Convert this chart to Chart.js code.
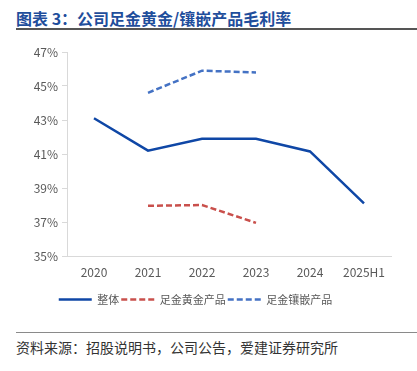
<!DOCTYPE html>
<html><head><meta charset="utf-8">
<script src="https://cdn.jsdelivr.net/npm/chart.js@4/dist/chart.umd.min.js"></script>
<style>
html,body{margin:0;padding:0;background:#fff;width:417px;height:371px;overflow:hidden;font-family:"Noto Sans CJK SC",sans-serif;}
#title{position:absolute;left:16px;top:8px;font-size:16px;font-weight:bold;color:#1F4E9C;white-space:nowrap;line-height:20px;}
#tline{position:absolute;left:16px;top:28px;width:401px;height:2px;background:#555;}
#sline{position:absolute;left:16px;top:332px;width:401px;height:1px;background:#8a8a8a;}
#source{position:absolute;left:16px;top:338px;font-size:14px;color:#333;white-space:nowrap;line-height:18px;}
#wrap{position:absolute;left:0;top:40px;width:417px;height:290px;}
</style></head>
<body>
<div id="title">图表 3：公司足金黄金/镶嵌产品毛利率</div>
<div id="tline"></div>
<div id="wrap"><canvas id="c"></canvas></div>
<div id="sline"></div>
<div id="source">资料来源：招股说明书，公司公告，爱建证券研究所</div>
<script>
const categories = ["2020","2021","2022","2023","2024","2025H1"];
const seriesNames = ["整体","足金黄金产品","足金镶嵌产品"];
const overall = [43.1, 41.2, 41.9, 41.9, 41.15, 38.1];
const goldProducts = [null, 37.95, 38.0, 36.95, null, null];
const inlaidProducts = [null, 44.6, 45.9, 45.8, null, null];
const yTicks = [35, 37, 39, 41, 43, 45, 47];

const font = {family: '"Noto Sans CJK SC", sans-serif', size: 12};
new Chart(document.getElementById('c'), {
  type: 'line',
  data: {
    labels: categories,
    datasets: [
      {label: seriesNames[0], data: overall, borderColor: '#0F47A6', backgroundColor: '#0F47A6', borderWidth: 2.5, pointRadius: 0, tension: 0},
      {label: seriesNames[1], data: goldProducts, borderColor: '#C9504C', backgroundColor: '#C9504C', borderWidth: 2.5, borderDash: [6, 3], pointRadius: 0, tension: 0},
      {label: seriesNames[2], data: inlaidProducts, borderColor: '#4472C4', backgroundColor: '#4472C4', borderWidth: 2.5, borderDash: [6, 3], pointRadius: 0, tension: 0}
    ]
  },
  options: {
    responsive: true,
    maintainAspectRatio: false,
    animation: false,
    layout: {padding: {top: 12, right: 26, bottom: 15, left: 0}},
    plugins: {
      tooltip: {enabled: false},
      legend: {
        position: 'bottom',
        labels: {
          usePointStyle: true, pointStyle: 'line', pointStyleWidth: 33,
          padding: 2, color: '#595959',
          font: {family: font.family, size: 11},
          generateLabels: chart => {
            const items = Chart.defaults.plugins.legend.labels.generateLabels(chart);
            return items.map(it => {
              const ds = chart.data.datasets[it.datasetIndex];
              it.lineDash = ds.borderDash || [];
              it.lineWidth = 2.5;
              it.strokeStyle = ds.borderColor;
              it.pointStyle = 'line';
              return it;
            });
          }
        }
      }
    },
    scales: {
      x: {
        offset: true,
        grid: {display: true, drawOnChartArea: false, drawTicks: false, color: '#d9d9d9'},
        border: {display: true, color: '#d9d9d9', width: 1},
        ticks: {color: '#595959', font: font, padding: 9, maxRotation: 0},
        afterFit: s => { s.height = 36; }
      },
      y: {
        min: 35, max: 47,
        afterBuildTicks: s => { s.ticks = yTicks.map(v => ({value: v})); },
        grid: {display: true, drawOnChartArea: false, drawTicks: true, tickLength: 5, color: '#d9d9d9'},
        border: {display: true, color: '#d9d9d9', width: 1},
        ticks: {color: '#595959', font: font, padding: 4, callback: v => v + '%'},
        afterFit: s => { s.width = 67; }
      }
    }
  }
});
</script>
</body></html>
